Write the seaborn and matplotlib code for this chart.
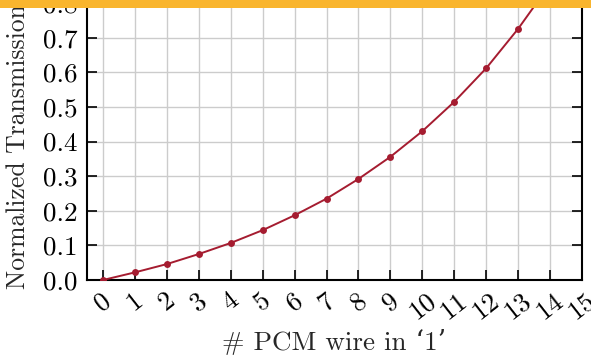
import matplotlib
matplotlib.use("Agg")
import matplotlib.pyplot as plt
from matplotlib.patches import Rectangle
import seaborn as sns
import pandas as pd

# Number of PCM wires set to '1' and the resulting normalized transmission
wires = [0, 1, 2, 3, 4, 5, 6, 7, 8, 9, 10, 11, 12, 13, 14, 15]
transmission = [0.0, 0.022, 0.046, 0.075, 0.107, 0.144, 0.187, 0.235,
                0.292, 0.356, 0.430, 0.515, 0.612, 0.726, 0.855, 1.0]
x_ticks = list(range(0, 16))
y_ticks = [0.0, 0.1, 0.2, 0.3, 0.4, 0.5, 0.6, 0.7, 0.8, 0.9, 1.0]

df = pd.DataFrame({"wires": wires, "transmission": transmission})

sns.set_theme(style="ticks")
plt.rcParams["font.family"] = ["cmr10", "DejaVu Serif"]
plt.rcParams["axes.formatter.use_mathtext"] = True
plt.rcParams["mathtext.fontset"] = "cm"

W, H = 591, 356
fig = plt.figure(figsize=(W / 100, H / 100), dpi=100)
fig.patch.set_facecolor("white")

ax_left, ax_right, ax_bottom, ax_top = 87, 582, 280, -66
ax = fig.add_axes([ax_left / W, (H - ax_bottom) / H,
                   (ax_right - ax_left) / W, (ax_bottom - ax_top) / H])

crimson = "#A51C30"
sns.lineplot(data=df, x="wires", y="transmission", ax=ax, color=crimson,
             linewidth=1.4, marker="o", markersize=5, markeredgewidth=0,
             zorder=3)

ax.set_xlim(-0.5, 15)
ax.set_ylim(0, 1.0)
ax.set_xticks(x_ticks)
ax.set_xticklabels([str(t) for t in x_ticks], rotation=38)
ax.set_yticks(y_ticks)
ax.set_yticklabels([f"{t:.1f}" for t in y_ticks])

ax.grid(True, color="#cccccc", linewidth=1.0, zorder=0)
ax.set_axisbelow(True)
for side in ["left", "right", "bottom", "top"]:
    ax.spines[side].set_visible(True)
    ax.spines[side].set_color("black")
    ax.spines[side].set_linewidth(1.5)

fs = 19.5
ax.tick_params(axis="both", direction="in", length=7, width=1.2,
               top=True, right=True, labelsize=fs, colors="black")
ax.tick_params(axis="x", pad=6)
ax.tick_params(axis="y", pad=7)

ax.set_xlabel("# PCM wire in ‘1’", fontsize=fs, labelpad=4)
ax.set_ylabel("Normalized Transmission", fontsize=18.5)
ax.yaxis.set_label_coords(-0.116, 0.387)

# banner strip across the top edge
fig.add_artist(Rectangle((0, 1 - 8 / H), 1, 8 / H, transform=fig.transFigure,
                         facecolor="#F9B52E", edgecolor="none", zorder=10))

fig.savefig("out.png", dpi=100)
